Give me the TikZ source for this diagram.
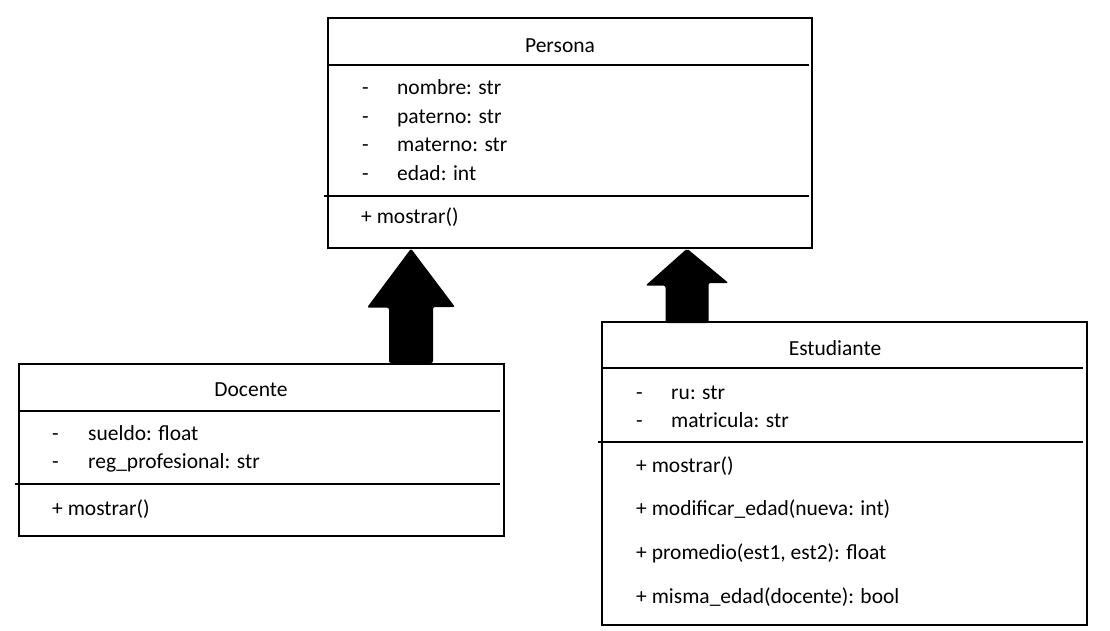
\documentclass[tikz,border=0pt]{standalone}
\usepackage{fontspec}
\setmainfont{Carlito}
\usetikzlibrary{positioning,calc}

\begin{document}
\begin{tikzpicture}[x=1pt,y=-1pt,
  font=\fontsize{21.5}{26}\selectfont,
  classbox/.style={draw,line width=1.6pt,anchor=north west,inner sep=0pt},
  divider/.style={line width=1.1pt},
  item/.style={anchor=base west,inner sep=0pt},
  title/.style={anchor=base,inner sep=0pt},
  blockarrow/.style={fill=black,rounded corners=2pt}]
  \useasboundingbox (0,0) rectangle (1110,631);

  % classes
  \node[classbox,minimum width=484pt,minimum height=230pt] (persona) at (327,17) {};
  \node[classbox,minimum width=485pt,minimum height=172pt] (docente) at (18,363) {};
  \node[classbox,minimum width=485pt,minimum height=303pt] (estudiante) at (601,321) {};

  % Persona
  \node[title] (personaT) at (560,53) {Persona};
  \draw[divider] (327,65) -- (809,65);
  \foreach \t [count=\i from 0] in {nombre: str,paterno: str,materno: str,edad: int} {
    \node[item] (pdash\i) at (362,95+28.5*\i) {-};
    \node[item] (pattr\i) at (397,95+28.5*\i) {\t};
  }
  \draw[divider] (324,196) -- (809,196);
  \node[item] (pm0) at (361,223) {+ mostrar()};

  % Docente
  \node[title] (docenteT) at (251,396) {Docente};
  \draw[divider] (18,411) -- (500,411);
  \foreach \t [count=\i from 0] in {sueldo: float,reg\_profesional: str} {
    \node[item] (ddash\i) at (52,440+28*\i) {-};
    \node[item] (dattr\i) at (88,440+28*\i) {\t};
  }
  \draw[divider] (15,484) -- (500,484);
  \node[item] (dm0) at (52,515) {+ mostrar()};

  % Estudiante
  \node[title] (estudianteT) at (835,355) {Estudiante};
  \draw[divider] (601,368) -- (1083,368);
  \foreach \t [count=\i from 0] in {ru: str,matricula: str} {
    \node[item] (edash\i) at (636,399+28*\i) {-};
    \node[item] (eattr\i) at (671,399+28*\i) {\t};
  }
  \draw[divider] (598,442) -- (1083,442);
  \foreach \t [count=\i from 0] in {{+ mostrar()},{+ modificar\_edad(nueva: int)},
      {+ promedio(est1, est2): float},{+ misma\_edad(docente): bool}} {
    \node[item] (em\i) at (636,472+43.7*\i) {\t};
  }

  % inheritance arrows
  \coordinate (tipL) at ($(persona.south west)+(84,0)$);
  \coordinate (tipR) at ($(persona.south west)+(360,0)$);
  \fill[blockarrow] (tipL) -- ++(-44,59) -- ++(22,0) -- ($(tipL |- docente.north)+(-22,0)$)
    -- ++(44,0) -- ++(0,-56) -- ++(22,0) -- cycle;
  \fill[blockarrow] (tipR) -- ++(-41.5,37) -- ++(20,0) -- ($(tipR |- estudiante.north)+(-21.5,2)$)
    -- ++(43,0) -- ++(0,-40) -- ++(20,0) -- cycle;
\end{tikzpicture}
\end{document}
